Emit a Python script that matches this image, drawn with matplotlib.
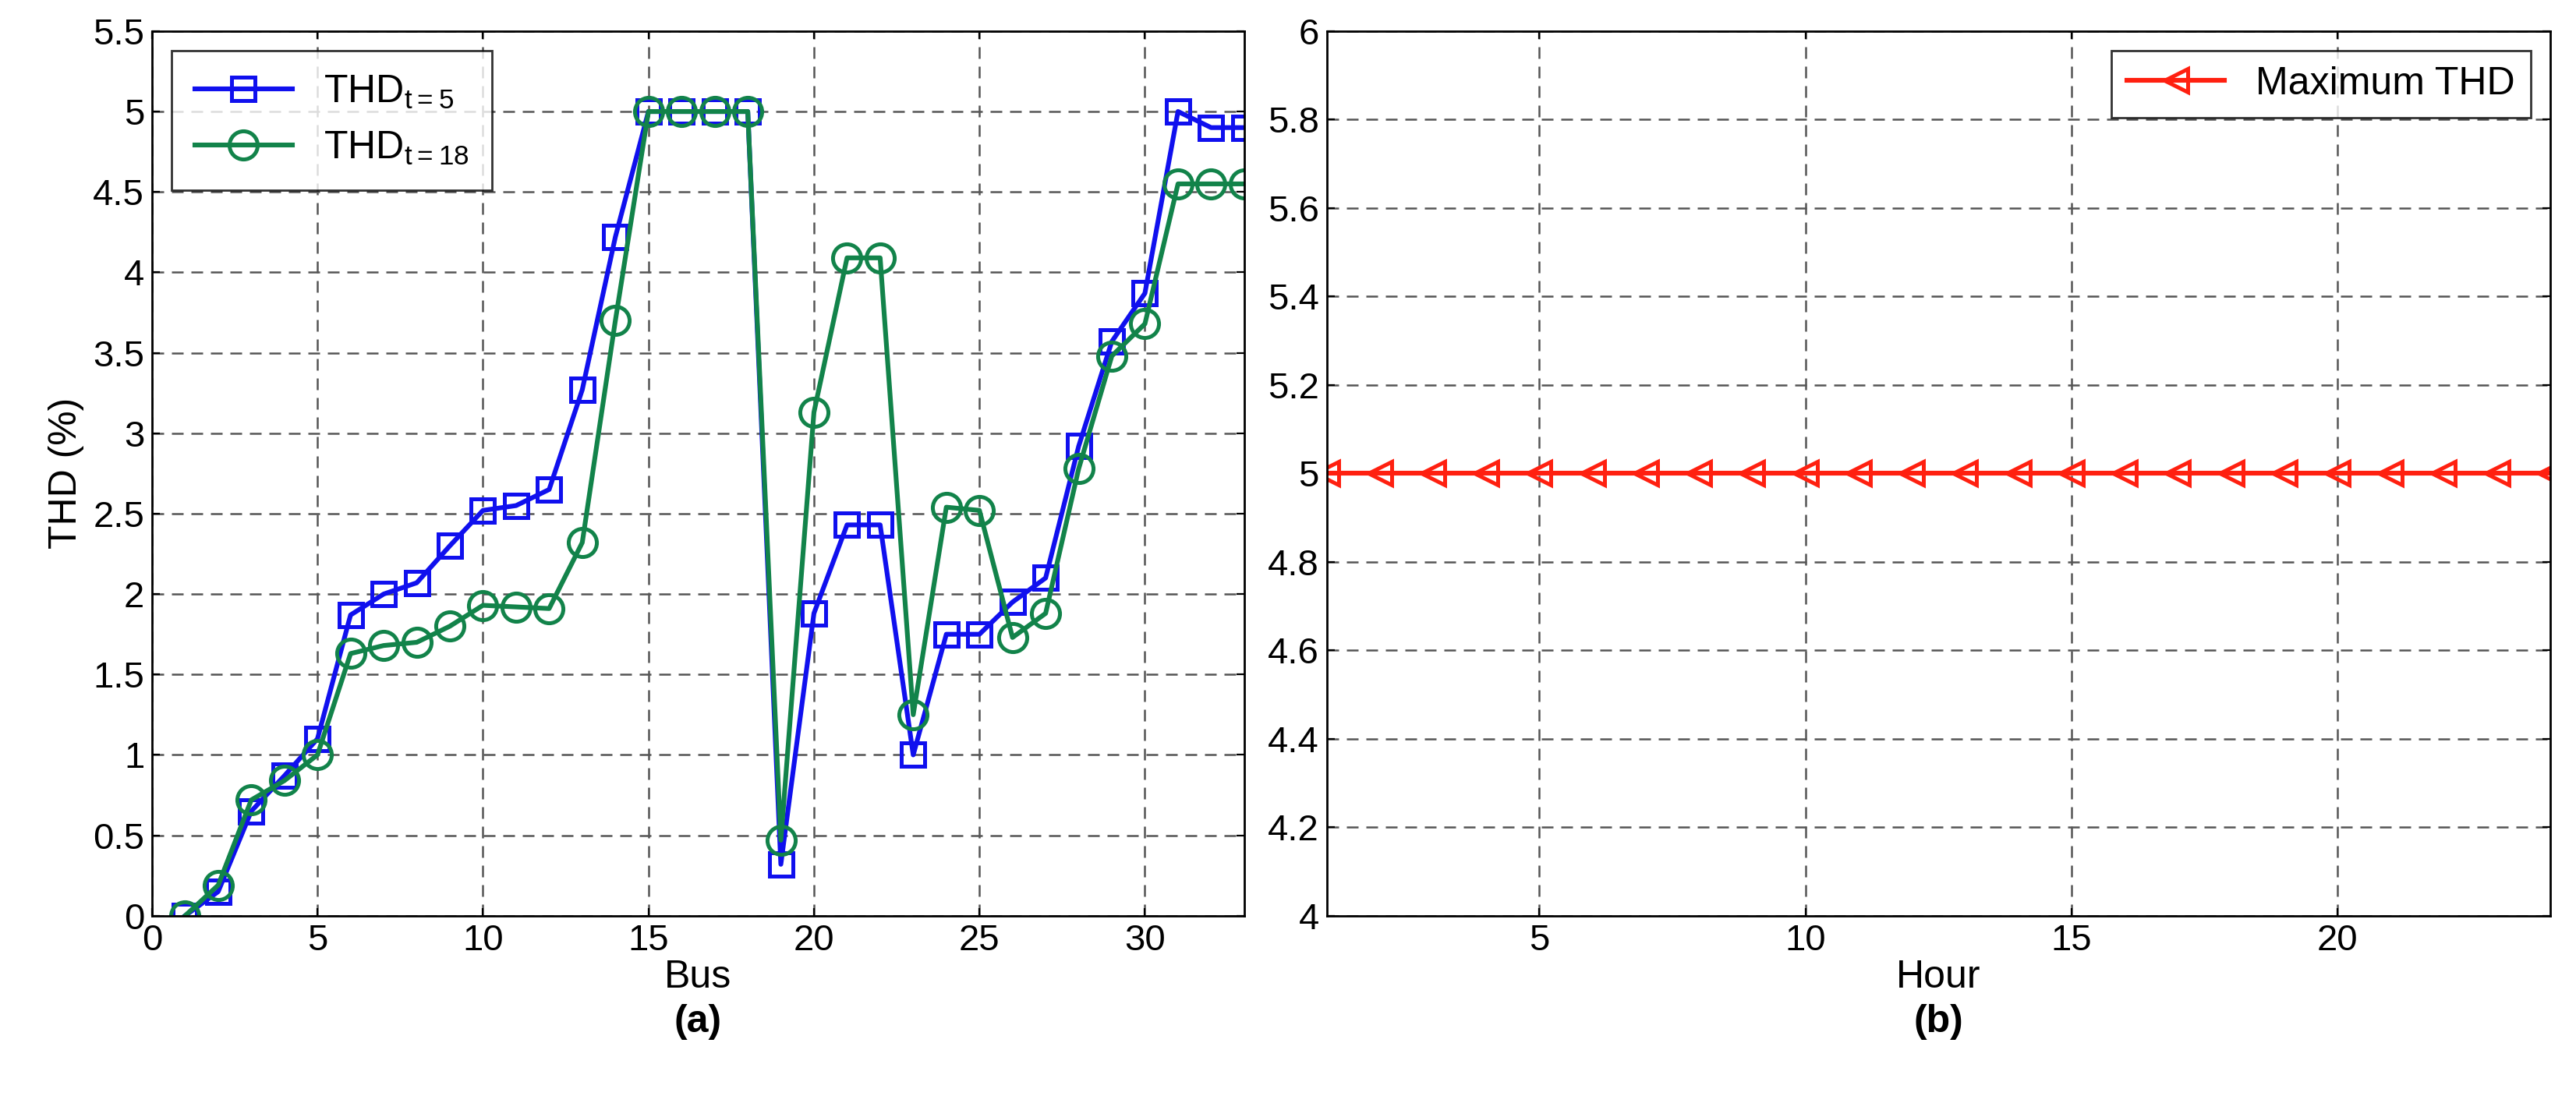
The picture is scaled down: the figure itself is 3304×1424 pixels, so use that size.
import numpy as np
import matplotlib.pyplot as plt

plt.rcParams['font.family'] = ['Arial', 'Liberation Sans', 'DejaVu Sans']

bus = np.arange(1, 34)
thd_t5 = [0, 0.15, 0.65, 0.87, 1.1, 1.87, 2.0, 2.07, 2.3, 2.52, 2.55, 2.65, 3.27, 4.22,
          5, 5, 5, 5, 0.32, 1.88, 2.43, 2.43, 1.0, 1.75, 1.75, 1.95, 2.1, 2.92, 3.57,
          3.87, 5.0, 4.9, 4.9]
thd_t18 = [0, 0.19, 0.72, 0.84, 1.0, 1.63, 1.68, 1.7, 1.8, 1.93, 1.92, 1.91, 2.32, 3.7,
           5, 5, 5, 5, 0.47, 3.13, 4.09, 4.09, 1.25, 2.54, 2.52, 1.73, 1.88, 2.78, 3.48,
           3.68, 4.55, 4.55, 4.55]
hours = np.arange(1, 25)
max_thd = [5.0] * 24

fig = plt.figure(figsize=(16.52, 7.12), dpi=200)
ax1 = fig.add_axes([0.059, 0.175, 0.424, 0.797])
ax2 = fig.add_axes([0.515, 0.175, 0.475, 0.797])

green = '#12834a'
ax1.plot(bus, thd_t5, '-s', color='#1010ee', lw=2.2, ms=11, mfc='none', mew=1.8,
         label=r'THD$_{\mathregular{t=5}}$')
ax1.plot(bus, thd_t18, '-o', color=green, lw=2.2, ms=13, mfc='none', mew=1.8,
         label=r'THD$_{\mathregular{t=18}}$')
ax1.set_xlim(0, 33)
ax1.set_ylim(0, 5.5)
ax1.set_xticks(np.arange(0, 31, 5))
ax1.set_yticks(np.arange(0, 5.51, 0.5))
ax1.set_yticklabels(['0', '0.5', '1', '1.5', '2', '2.5', '3', '3.5', '4', '4.5', '5', '5.5'])
ax1.set_xlabel('Bus', fontsize=18, labelpad=1)
ax1.set_ylabel('THD (%)', fontsize=18)
ax1.legend(loc='upper left', fontsize=18, fancybox=False, edgecolor='black',
           handlelength=2.5, borderpad=0.6)
ax1.text(0.5, -0.1, '(a)', transform=ax1.transAxes, ha='center', va='top',
         fontsize=18, fontweight='bold')

ax2.plot(hours, max_thd, '-<', color='#ff2010', lw=2.2, ms=11, mfc='none', mew=1.8,
         label='Maximum THD')
ax2.set_xlim(1, 24)
ax2.set_ylim(4, 6)
ax2.set_xticks([5, 10, 15, 20])
ax2.set_yticks(np.arange(4, 6.01, 0.2))
ax2.set_yticklabels(['4', '4.2', '4.4', '4.6', '4.8', '5', '5.2', '5.4', '5.6', '5.8', '6'])
ax2.set_xlabel('Hour', fontsize=18, labelpad=1)
ax2.legend(loc='upper right', fontsize=18, fancybox=False, edgecolor='black',
           handlelength=2.5, borderpad=0.4)
ax2.text(0.5, -0.1, '(b)', transform=ax2.transAxes, ha='center', va='top',
         fontsize=18, fontweight='bold')

for ax in (ax1, ax2):
    ax.grid(True, linestyle=(0, (6, 4)), color='#555555', lw=0.9)
    ax.tick_params(labelsize=17, direction='in', top=True, right=True)
    for s in ax.spines.values():
        s.set_linewidth(1)

fig.savefig('out.png')
